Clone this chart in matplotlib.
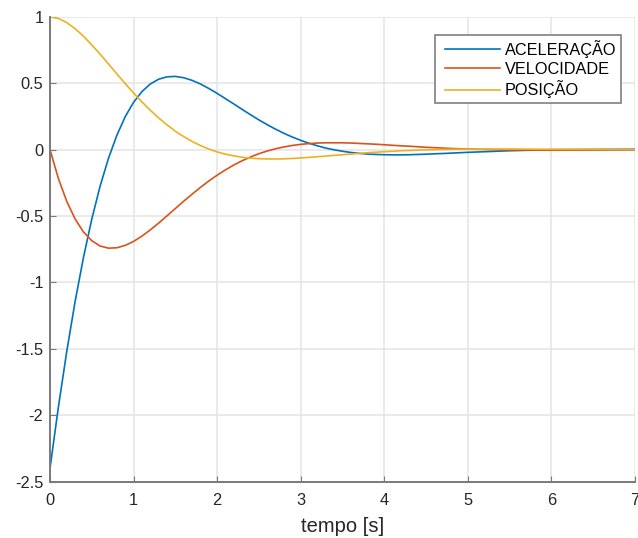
import matplotlib
matplotlib.use("Agg")
import matplotlib.pyplot as plt
from matplotlib.lines import Line2D
from matplotlib.legend_handler import HandlerLine2D

plt.rcParams['font.family'] = ['Liberation Sans', 'DejaVu Sans']
plt.rcParams['axes.unicode_minus'] = False

# time samples [s]
tempo = [0.0, 0.1, 0.2, 0.3, 0.4, 0.5, 0.6, 0.7, 0.8, 0.9,
         1.0, 1.1, 1.2, 1.3, 1.4, 1.5, 1.6, 1.7, 1.8, 1.9,
         2.0, 2.1, 2.2, 2.3, 2.4, 2.5, 2.6, 2.7, 2.8, 2.9,
         3.0, 3.1, 3.2, 3.3, 3.4, 3.5, 3.6, 3.7, 3.8, 3.9,
         4.0, 4.1, 4.2, 4.3, 4.4, 4.5, 4.6, 4.7, 4.8, 4.9,
         5.0, 5.5, 6.0, 6.5, 7.0]

aceleracao = [-2.400, -1.940, -1.521, -1.145, -0.812, -0.522, -0.273, -0.064, 0.109, 0.249,
              0.357, 0.438, 0.495, 0.531, 0.549, 0.552, 0.542, 0.522, 0.495, 0.461,
              0.424, 0.384, 0.344, 0.303, 0.263, 0.224, 0.188, 0.154, 0.123, 0.095,
              0.070, 0.048, 0.029, 0.012, -0.001, -0.012, -0.021, -0.028, -0.033, -0.036,
              -0.038, -0.039, -0.039, -0.038, -0.036, -0.034, -0.031, -0.029, -0.026, -0.023,
              -0.020, -0.008, 0.000, 0.002, 0.003]

velocidade = [0.000, -0.217, -0.389, -0.522, -0.620, -0.686, -0.726, -0.742, -0.739, -0.721,
              -0.691, -0.651, -0.604, -0.553, -0.498, -0.443, -0.388, -0.335, -0.284, -0.236,
              -0.192, -0.152, -0.115, -0.083, -0.055, -0.030, -0.010, 0.007, 0.021, 0.032,
              0.040, 0.046, 0.050, 0.052, 0.052, 0.052, 0.050, 0.047, 0.044, 0.041,
              0.037, 0.033, 0.029, 0.026, 0.022, 0.018, 0.015, 0.012, 0.009, 0.007,
              0.005, -0.002, -0.004, -0.003, -0.002]

posicao = [1.000, 0.989, 0.958, 0.912, 0.855, 0.789, 0.719, 0.645, 0.571, 0.498,
           0.427, 0.360, 0.297, 0.239, 0.187, 0.139, 0.098, 0.062, 0.031, 0.005,
           -0.017, -0.034, -0.047, -0.057, -0.064, -0.068, -0.070, -0.070, -0.069, -0.066,
           -0.062, -0.058, -0.053, -0.048, -0.043, -0.038, -0.033, -0.028, -0.023, -0.019,
           -0.015, -0.012, -0.008, -0.006, -0.003, -0.001, 0.000, 0.002, 0.003, 0.004,
           0.004, 0.005, 0.003, 0.002, 0.000]

x_ticks = [0, 1, 2, 3, 4, 5, 6, 7]
y_ticks = [-2.5, -2, -1.5, -1, -0.5, 0, 0.5, 1]
y_tick_labels = ['-2.5', '-2', '-1.5', '-1', '-0.5', '0', '0.5', '1']

fig = plt.figure(figsize=(6.38, 5.38), dpi=100)
ax = fig.add_axes([0.0784, 0.105, 0.917, 0.8635])

ax.plot(tempo, aceleracao, color='#0072BD', lw=1.2, label='ACELERAÇÃO')
ax.plot(tempo, velocidade, color='#D95319', lw=1.2, label='VELOCIDADE')
ax.plot(tempo, posicao, color='#EDB120', lw=1.2, label='POSIÇÃO')

ax.set_xlim(0, 7)
ax.set_ylim(-2.5, 1)
ax.set_xticks(x_ticks)
ax.set_yticks(y_ticks)
ax.set_yticklabels(y_tick_labels)
ax.grid(True, color='#e6e6e6', lw=1.2)
ax.set_axisbelow(True)

for side in ('top', 'right'):
    ax.spines[side].set_visible(False)
for side in ('left', 'bottom'):
    ax.spines[side].set_color('#7a7a7a')
    ax.spines[side].set_linewidth(1.4)

ax.tick_params(direction='in', length=4, width=0.8, color='#7a7a7a',
               labelsize=11.8, labelcolor='#262626')
ax.tick_params(axis='x', pad=8)
ax.tick_params(axis='y', pad=4.8)
ax.set_xlabel('tempo [s]', fontsize=14.5, color='#262626', labelpad=7)

# handles are inset a little from the frame's left edge
leg = ax.legend(loc='upper right', bbox_to_anchor=(0.976, 0.961), borderaxespad=0,
                fontsize=11.7, fancybox=False, framealpha=1, edgecolor='#7f7f7f',
                handlelength=3.7, handletextpad=0.3, labelspacing=0.23,
                borderpad=0.3, handler_map={Line2D: HandlerLine2D(xpad=0.31)})
leg.get_frame().set_linewidth(1.2)

fig.savefig('out.png', dpi=100)
